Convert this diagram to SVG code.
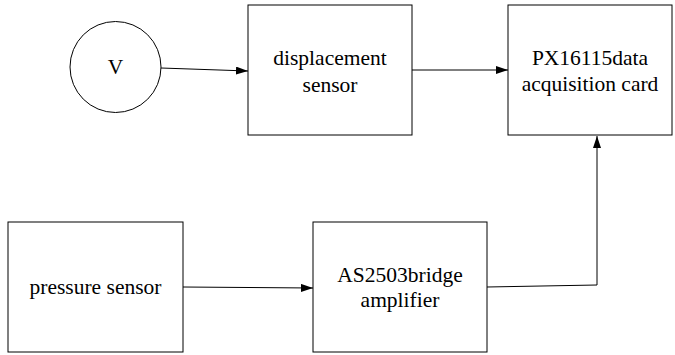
<svg xmlns="http://www.w3.org/2000/svg" width="675" height="355" viewBox="0 0 675 355">
<style>
.box{fill:#fff;stroke:#000;stroke-width:1}
.t{font-family:"Liberation Serif","Times New Roman","DejaVu Serif",serif;font-size:21.5px;fill:#000;text-anchor:middle}
.c{fill:none;stroke:#000;stroke-width:1}
</style>
<defs>
<marker id="ah" markerWidth="12" markerHeight="8" refX="12" refY="4" orient="auto" markerUnits="userSpaceOnUse">
<path d="M0,0 L12,4 L0,8 Z" fill="#000"/>
</marker>
</defs>
<rect width="675" height="355" fill="#fff"/>
<g id="v">
<circle class="box" cx="115.5" cy="67" r="45.5"/>
<text class="t" x="115.5" y="74">V</text>
</g>
<g id="displacement">
<rect class="box" x="248" y="5" width="164" height="130"/>
<text class="t" x="330" y="65">displacement</text>
<text class="t" x="330" y="92">sensor</text>
</g>
<g id="px16115">
<rect class="box" x="508" y="5" width="164" height="130"/>
<text class="t" x="590" y="65">PX16115data</text>
<text class="t" x="590" y="91">acquisition card</text>
</g>
<g id="pressure">
<rect class="box" x="8" y="222" width="175" height="130"/>
<text class="t" x="95.5" y="294">pressure sensor</text>
</g>
<g id="as2503">
<rect class="box" x="313" y="222" width="174" height="130"/>
<text class="t" x="400" y="282">AS2503bridge</text>
<text class="t" x="400" y="307">amplifier</text>
</g>
<g id="connectors">
<line class="c" x1="161" y1="68" x2="248" y2="71" marker-end="url(#ah)"/>
<line class="c" x1="412" y1="70" x2="508" y2="70" marker-end="url(#ah)"/>
<line class="c" x1="183" y1="287" x2="313" y2="288" marker-end="url(#ah)"/>
<polyline class="c" points="487,287 597,285 597,136" marker-end="url(#ah)"/>
</g>
</svg>
